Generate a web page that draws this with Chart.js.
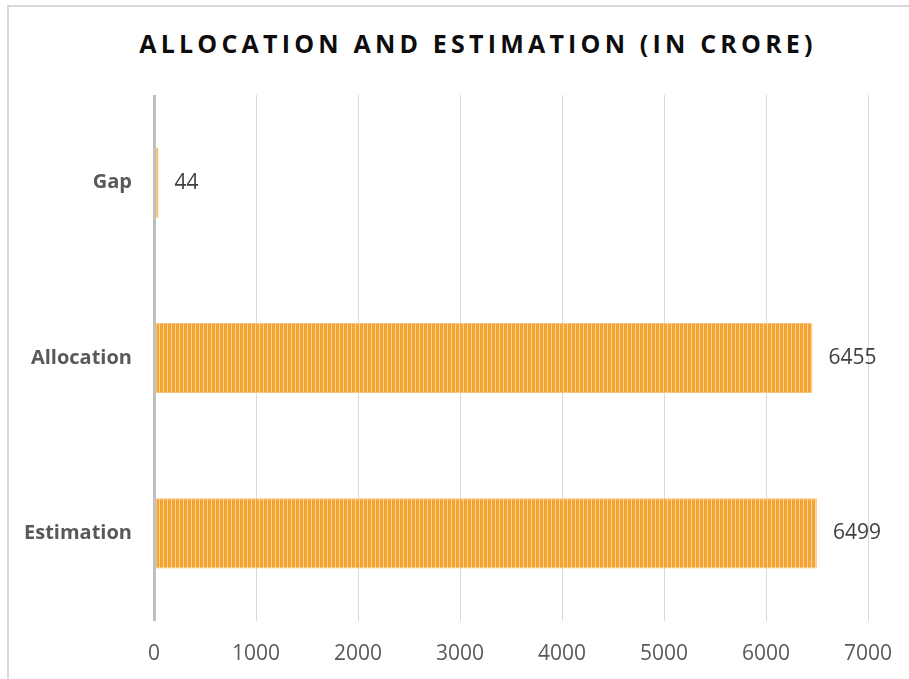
<!DOCTYPE html>
<html>
<head>
<meta charset="utf-8">
<script src="https://cdn.jsdelivr.net/npm/chart.js@4.4.0/dist/chart.umd.min.js"></script>
<style>
    html, body { margin: 0; padding: 0; background: #fff; }
    #wrap { position: relative; width: 909px; height: 679px; overflow: hidden; }
    #frame { position: absolute; left: 7px; top: 5px; width: 1000px; height: 1000px; border-left: 2px solid #D9D9D9; border-top: 2px solid #D9D9D9; }
    #title { position: absolute; left: 0; top: 28px; width: 956px; text-align: center; font-family: "Open Sans", sans-serif; font-weight: 700; font-size: 25px; line-height: 30px; letter-spacing: 4.2px; color: #0D0D0D; }
    canvas { position: absolute; left: 0; top: 0; }
</style>
</head>
<body>
<div id="wrap">
    <div id="frame"></div>
    <div id="title">ALLOCATION AND ESTIMATION (IN CRORE)</div>
    <canvas id="chart" width="909" height="679"></canvas>
</div>
<script>
// Datos del gráfico
const categories = ['Gap', 'Allocation', 'Estimation'];
const values = [44, 6455, 6499];
const xTicks = [0, 1000, 2000, 3000, 4000, 5000, 6000, 7000];

document.addEventListener('DOMContentLoaded', () => {
    const ctx = document.getElementById('chart').getContext('2d');

    // Relleno a rayas verticales para las barras
    const tile = document.createElement('canvas');
    tile.width = 4;
    tile.height = 4;
    const t = tile.getContext('2d');
    t.fillStyle = '#F5A431';
    t.fillRect(0, 0, 4, 4);
    t.fillStyle = '#FBD49A';
    t.fillRect(3, 0, 1, 4);
    const stripes = ctx.createPattern(tile, 'repeat');

    // Etiquetas de valor al final de cada barra
    const valueLabels = {
        id: 'valueLabels',
        afterDatasetsDraw(chart) {
            const c = chart.ctx;
            const meta = chart.getDatasetMeta(0);
            c.save();
            c.font = '21px "Open Sans", sans-serif';
            c.fillStyle = '#404040';
            c.textAlign = 'left';
            c.textBaseline = 'middle';
            meta.data.forEach((bar, i) => {
                c.fillText(String(values[i]), bar.x + 16, bar.y);
            });
            c.restore();
        }
    };

    new Chart(ctx, {
        type: 'bar',
        data: {
            labels: categories,
            datasets: [{
                data: values,
                backgroundColor: stripes,
                borderColor: '#F8C37A',
                borderWidth: 1,
                borderSkipped: false,
                barPercentage: 0.4,
                categoryPercentage: 1
            }]
        },
        options: {
            indexAxis: 'y',
            responsive: false,
            animation: false,
            layout: { padding: { top: 95, right: 41, left: 0, bottom: 0 } },
            plugins: {
                legend: { display: false },
                tooltip: { enabled: false }
            },
            scales: {
                x: {
                    min: 0,
                    max: 7000,
                    afterBuildTicks: (scale) => { scale.ticks = xTicks.map(v => ({ value: v })); },
                    afterFit: (scale) => {
                        scale.height = 58;
                        scale.paddingRight = 0;
                        scale.paddingLeft = 0;
                    },
                    border: { display: false },
                    grid: {
                        drawTicks: false,
                        color: (c) => c.tick && c.tick.value === 0 ? '#BFBFBF' : '#D9D9D9',
                        lineWidth: (c) => c.tick && c.tick.value === 0 ? 3 : 1
                    },
                    ticks: {
                        padding: 20,
                        color: '#595959',
                        callback: (v) => String(v),
                        font: { family: '"Open Sans", sans-serif', size: 21 }
                    }
                },
                y: {
                    afterFit: (scale) => { scale.width = 154; },
                    border: { display: false },
                    grid: { display: false, drawTicks: false },
                    ticks: {
                        padding: 22,
                        color: '#595959',
                        font: { family: '"Open Sans", sans-serif', size: 20, weight: 'bold' }
                    }
                }
            }
        },
        plugins: [valueLabels]
    });
});
</script>
</body>
</html>
